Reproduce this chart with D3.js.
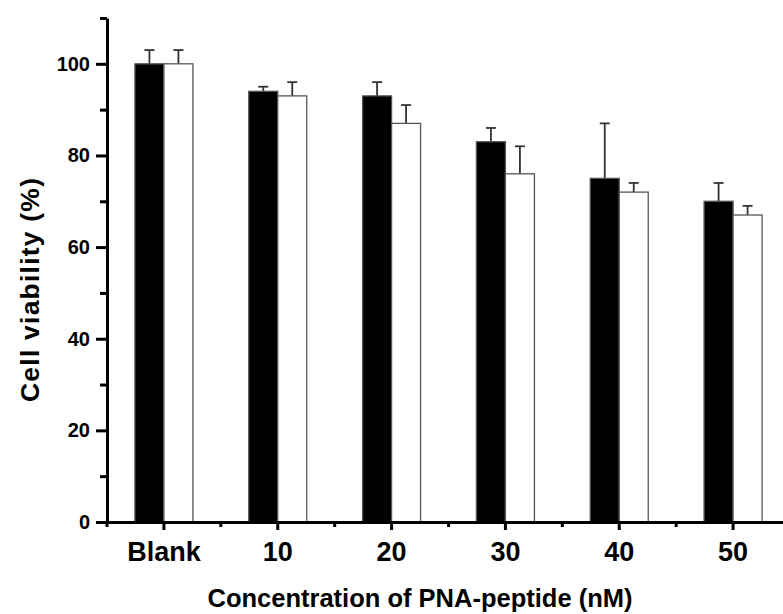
<!DOCTYPE html>
<html>
<head>
<meta charset="utf-8">
<script src="https://cdn.jsdelivr.net/npm/d3@7"></script>
<style>
  body { margin: 0; background: #fff; }
  svg text { font-family: Arial, "Liberation Sans", sans-serif; font-weight: bold; fill: #000; }
</style>
</head>
<body>
<svg width="783" height="614"></svg>
<script>
// data
var categories = ["Blank", "10", "20", "30", "40", "50"];
var blackVals = [100, 94, 93, 83, 75, 70];
var blackErr  = [3, 1, 3, 3, 12, 4];
var whiteVals = [100, 93, 87, 76, 72, 67];
var whiteErr  = [3, 3, 4, 6, 2, 2];
var yMajor = [0, 20, 40, 60, 80, 100];
var yMinor = [10, 30, 50, 70, 90, 110];

var svg = d3.select("svg");

var x = d3.scaleBand().domain(categories).range([107, 790]).padding(0);
var y = d3.scaleLinear().domain([0, 110]).range([522, 18]);
var barW = 29;

// groups of bars
var rows = categories.map(function (c, i) {
  return [
    { cat: c, v: blackVals[i], e: blackErr[i], fill: "#000", off: -barW },
    { cat: c, v: whiteVals[i], e: whiteErr[i], fill: "#fff", off: 0 }
  ];
}).flat();

var g = svg.append("g");
var mid = function (d) { return x(d.cat) + x.bandwidth() / 2; };

// error bars (upper only)
g.selectAll("line.err")
  .data(rows).enter()
  .append("line")
  .attr("x1", function (d) { return mid(d) + d.off + barW / 2; })
  .attr("x2", function (d) { return mid(d) + d.off + barW / 2; })
  .attr("y1", function (d) { return y(d.v); })
  .attr("y2", function (d) { return y(d.v + d.e); })
  .attr("stroke", "#333").attr("stroke-width", 1.8);
g.selectAll("line.cap")
  .data(rows).enter()
  .append("line")
  .attr("x1", function (d) { return mid(d) + d.off + barW / 2 - 5; })
  .attr("x2", function (d) { return mid(d) + d.off + barW / 2 + 5; })
  .attr("y1", function (d) { return y(d.v + d.e); })
  .attr("y2", function (d) { return y(d.v + d.e); })
  .attr("stroke", "#333").attr("stroke-width", 1.8);

g.selectAll("rect")
  .data(rows).enter()
  .append("rect")
  .attr("x", function (d) { return mid(d) + d.off; })
  .attr("width", barW)
  .attr("y", function (d) { return y(d.v); })
  .attr("height", function (d) { return y(0) - y(d.v); })
  .attr("fill", function (d) { return d.fill; })
  .attr("stroke", "#555").attr("stroke-width", 1.3);

// y axis
var yAx = svg.append("g").attr("transform", "translate(107,0)")
  .call(d3.axisLeft(y).tickValues(yMajor).tickSize(11).tickSizeOuter(0).tickPadding(6));
yAx.selectAll("text").style("font-size", "20px");
var yMin = svg.append("g").attr("transform", "translate(107,0)")
  .call(d3.axisLeft(y).tickValues(yMinor).tickSize(7).tickSizeOuter(0).tickFormat(""));
yMin.select(".domain").remove();
svg.selectAll(".tick line").attr("stroke-width", 3);
yAx.select(".domain").attr("stroke-width", 3);

// x axis
var xAx = svg.append("g").attr("transform", "translate(0,522)")
  .call(d3.axisBottom(x).tickSize(8).tickSizeOuter(0).tickPadding(12));
xAx.selectAll("text").style("font-size", "27px");
xAx.select(".domain").attr("stroke-width", 3);
xAx.selectAll(".tick line").attr("stroke-width", 3);
// minor ticks at band edges
xAx.selectAll("line.minor")
  .data(categories).enter()
  .append("line")
  .attr("x1", function (d) { return x(d); })
  .attr("x2", function (d) { return x(d); })
  .attr("y1", 0).attr("y2", 5)
  .attr("stroke", "#000").attr("stroke-width", 3);

// axis titles
svg.append("text")
  .attr("x", 420).attr("y", 607)
  .attr("text-anchor", "middle")
  .style("font-size", "25.5px")
  .text("Concentration of PNA-peptide (nM)");
svg.append("text")
  .attr("transform", "translate(39,290) rotate(-90)")
  .attr("text-anchor", "middle")
  .attr("textLength", 224)
  .attr("lengthAdjust", "spacing")
  .style("font-size", "26.5px")
  .text("Cell viability (%)");
</script>
</body>
</html>
